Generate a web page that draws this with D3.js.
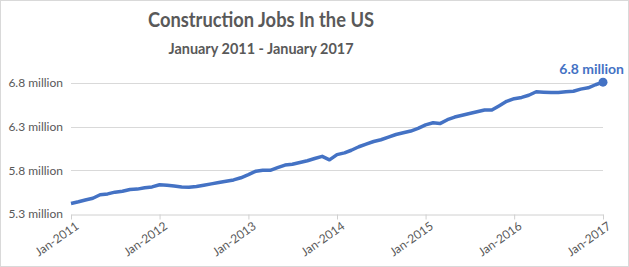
<!DOCTYPE html>
<html>
<head>
<meta charset="utf-8">
<script src="https://cdn.jsdelivr.net/npm/d3@7"></script>
<style>
  body { margin: 0; background: #fff; }
  svg { display: block; }
</style>
</head>
<body>
<div id="chart-container"></div>
<script>
// monthly values, Jan 2011 .. Jan 2017 (millions)
let startMonth = new Date(2011, 0, 1);
let jobs = [
  5.42, 5.44, 5.46, 5.48, 5.52, 5.53, 5.55, 5.56, 5.58, 5.585, 5.60, 5.61,
  5.635, 5.63, 5.62, 5.61, 5.605, 5.615, 5.63, 5.645, 5.66, 5.675, 5.69, 5.715,
  5.75, 5.79, 5.80, 5.80, 5.83, 5.86, 5.87, 5.89, 5.91, 5.935, 5.96, 5.92,
  5.98, 6.00, 6.03, 6.07, 6.10, 6.13, 6.15, 6.18, 6.21, 6.23, 6.25, 6.28,
  6.32, 6.345, 6.335, 6.38, 6.41, 6.43, 6.45, 6.47, 6.49, 6.49, 6.54, 6.59,
  6.62, 6.635, 6.66, 6.70, 6.695, 6.69, 6.69, 6.70, 6.705, 6.73, 6.745, 6.78,
  6.81
];
let yTicks = [5.3, 5.8, 6.3, 6.8];
let xTickYears = [2011, 2012, 2013, 2014, 2015, 2016, 2017];
let titleText = "Construction Jobs In the US";
let subtitleText = "January 2011 - January 2017";
let lastLabel = "6.8 million";

let W = 629, H = 267;
let margin = {top: 83, right: 26, bottom: 53, left: 71};
let width = W - margin.left - margin.right,
    height = H - margin.top - margin.bottom;

let blue = "#4472c4";
let grey = "#595959";
let font = "Lato, 'Open Sans', sans-serif";

let svg = d3.select("#chart-container")
    .append("svg")
    .attr("width", W)
    .attr("height", H)
    .style("font-family", font);

// outer frame
svg.append("rect")
    .attr("x", 0.5).attr("y", 0.5)
    .attr("width", W - 1).attr("height", H - 1)
    .attr("fill", "#fff")
    .attr("stroke", "#d9d9d9");

// titles (squeezed a bit, calibri is narrower than lato)
svg.append("text")
    .attr("x", 261).attr("y", 27)
    .attr("text-anchor", "middle")
    .style("font-size", "21px")
    .style("font-weight", "bold")
    .attr("textLength", 226)
    .attr("lengthAdjust", "spacingAndGlyphs")
    .style("fill", grey)
    .text(titleText);

svg.append("text")
    .attr("x", 261).attr("y", 54)
    .attr("text-anchor", "middle")
    .style("font-size", "16px")
    .style("font-weight", "bold")
    .attr("textLength", 185)
    .attr("lengthAdjust", "spacingAndGlyphs")
    .style("fill", grey)
    .text(subtitleText);

let g = svg.append("g")
    .attr("transform", "translate(" + margin.left + "," + margin.top + ")");

let dates = jobs.map((d, i) => d3.timeMonth.offset(startMonth, i));

let x = d3.scaleTime()
    .domain([dates[0], dates[dates.length - 1]])
    .range([0, width]);

let y = d3.scaleLinear()
    .domain([5.3, 6.8])
    .range([height, 0]);

// gridlines
g.append("g")
    .attr("class", "grid")
    .selectAll("line")
    .data(yTicks.slice(1))
    .enter()
    .append("line")
    .attr("x1", 0).attr("x2", width)
    .attr("y1", d => Math.round(y(d)) + 0.5)
    .attr("y2", d => Math.round(y(d)) + 0.5)
    .attr("stroke", "#d9d9d9")
    .attr("stroke-width", 1);

// Y axis labels
let yAxis = d3.axisLeft(y)
    .tickValues(yTicks)
    .tickSize(0)
    .tickPadding(8)
    .tickFormat(d => d3.format(".1f")(d) + " million");
let yg = g.append("g").attr("class", "y axis").call(yAxis);
yg.select(".domain").remove();
yg.selectAll("text")
    .style("font-family", font)
    .style("font-size", "12px")
    .style("fill", grey);

// X axis
let xAxis = d3.axisBottom(x)
    .tickValues(xTickYears.map(yr => new Date(yr, 0, 1)))
    .tickSize(5)
    .tickSizeOuter(0)
    .tickFormat(d3.timeFormat("%b-%Y"));
let xg = g.append("g")
    .attr("class", "x axis")
    .attr("transform", "translate(0," + (Math.round(height) + 0.5) + ")")
    .call(xAxis);
xg.select(".domain").attr("stroke", "#d0d0d0");
xg.selectAll(".tick line").attr("stroke", "#d0d0d0");
xg.selectAll("text")
    .style("font-family", font)
    .style("font-size", "12px")
    .style("fill", grey)
    .style("text-anchor", "end")
    .attr("dx", "-0.1em")
    .attr("dy", "0.9em")
    .attr("y", 5)
    .attr("transform", "rotate(-35)");

// line
let line = d3.line()
    .x((d, i) => x(dates[i]))
    .y(d => y(d));

g.append("path")
    .datum(jobs)
    .attr("fill", "none")
    .attr("stroke", blue)
    .attr("stroke-width", 3.5)
    .attr("stroke-linejoin", "round")
    .attr("d", line);

// last point marker + label
let lastI = jobs.length - 1;
g.append("circle")
    .attr("cx", x(dates[lastI]))
    .attr("cy", y(jobs[lastI]))
    .attr("r", 4.5)
    .attr("fill", blue);

g.append("text")
    .attr("x", x(dates[lastI]) + 21)
    .attr("y", y(jobs[lastI]) - 8)
    .attr("text-anchor", "end")
    .style("font-size", "14px")
    .style("font-weight", "bold")
    .style("fill", blue)
    .text(lastLabel);
</script>
</body>
</html>
